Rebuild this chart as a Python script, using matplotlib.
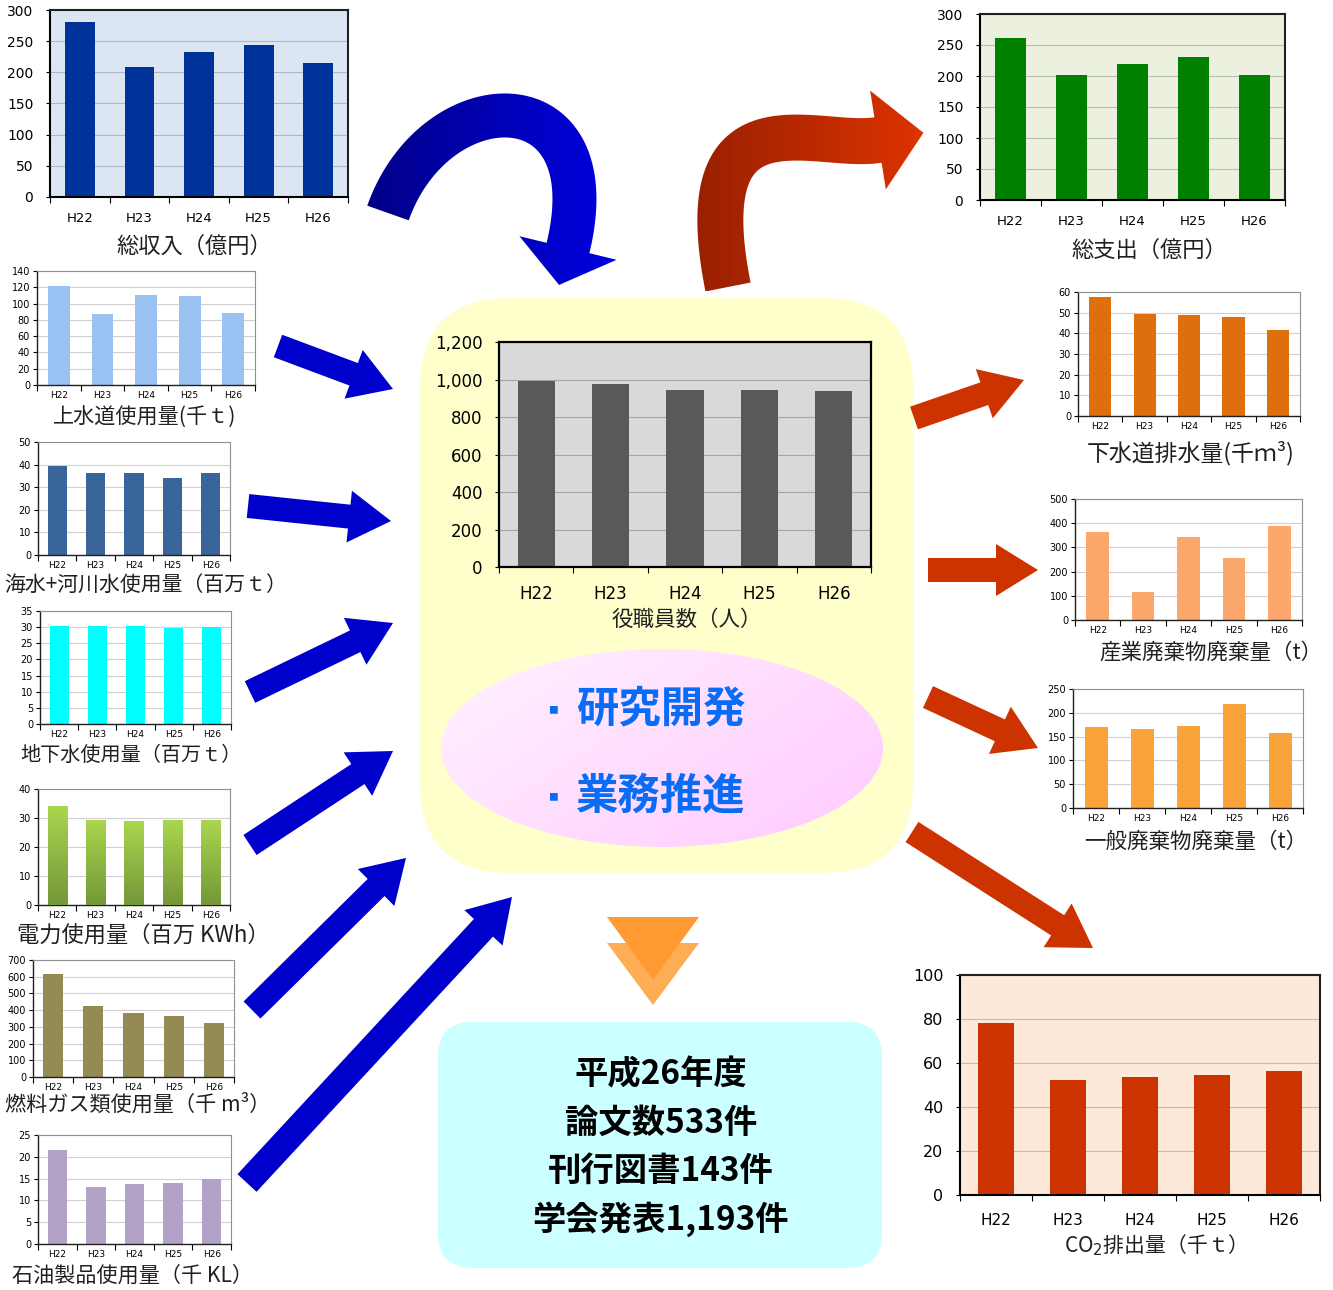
import numpy as np
import matplotlib
matplotlib.use('Agg')
import matplotlib.pyplot as plt
from matplotlib.patches import FancyBboxPatch, Ellipse, Polygon, FancyArrow

plt.rcParams['font.family'] = ['Noto Sans CJK JP', 'DejaVu Sans']

W, H = 1333, 1290

# ---------------- data ----------------
years = ['H22', 'H23', 'H24', 'H25', 'H26']

revenue = [280, 208, 233, 244, 215]            # 総収入（億円）
expenditure = [262, 201, 219, 230, 201]        # 総支出（億円）
staff = [993, 975, 943, 943, 940]              # 役職員数（人）
tap_water = [121, 87, 110, 109, 89]            # 上水道使用量(千t)
sea_river_water = [39.5, 36.1, 36.1, 34.0, 36.3]
groundwater = [30.3, 30.3, 30.3, 29.7, 30.0]
electricity = [33.8, 29.3, 28.7, 29.3, 29.3]
fuel_gas = [618, 427, 385, 365, 322]
oil = [21.5, 13.1, 13.7, 13.9, 14.8]
sewage = [57.5, 49.5, 48.8, 48.0, 41.7]
industrial_waste = [365, 117, 341, 256, 390]
general_waste = [170, 165, 173, 219, 157]
co2 = [78, 52.5, 53.5, 54.5, 56.5]

staff_ticks = [0, 200, 400, 600, 800, 1000, 1200]
staff_ticklabels = ['0', '200', '400', '600', '800', '1,000', '1,200']

activities = ['研究開発', '業務推進']
summary_lines = ['平成26年度', '論文数533件', '刊行図書143件', '学会発表1,193件']

# ---------------- figure ----------------
fig = plt.figure(figsize=(13.33, 12.90), dpi=100)
bg = fig.add_axes([0, 0, 1, 1])
bg.set_xlim(0, W)
bg.set_ylim(H, 0)
bg.axis('off')


def px_axes(x0, y0, x1, y1):
    return fig.add_axes([x0 / W, 1 - y1 / H, (x1 - x0) / W, (y1 - y0) / H])


# yellow rounded box
bg.add_patch(FancyBboxPatch((420, 298), 493, 575,
                            boxstyle="round,pad=0,rounding_size=90",
                            fc='#ffffcc', ec='none', zorder=1))

# pink ellipse with gradient
ell = Ellipse((662, 748), 442, 198, fc='none', ec='none', zorder=2)
bg.add_patch(ell)
u = np.linspace(0, 1, 200)
U, V = np.meshgrid(u, u)
t = np.clip((U * 0.6 + V * 0.4), 0, 1)
c0 = np.array([1.0, 0.95, 1.0])
c1 = np.array([1.0, 0.79, 1.0])
img = c0[None, None, :] * (1 - t[..., None]) + c1[None, None, :] * t[..., None]
im = bg.imshow(img, extent=(441, 883, 847, 649), aspect='auto', zorder=2,
               interpolation='bilinear')
im.set_clip_path(ell)

for i, s in enumerate(activities):
    y = 710 + i * 87
    bg.text(553, y, '■', fontsize=7, color='#0a6cf5', ha='center', va='center', zorder=3)
    bg.text(576, y, s, fontsize=30.5, fontweight='bold', color='#0a6cf5',
            ha='left', va='center', zorder=3)

# cyan summary box
bg.add_patch(FancyBboxPatch((438, 1022), 444, 246,
                            boxstyle="round,pad=0,rounding_size=35",
                            fc='#ccffff', ec='none', zorder=1))
for i, s in enumerate(summary_lines):
    bg.text(661, 1075 + i * 48, s, fontsize=24, fontweight='bold', color='black',
            ha='center', va='center', zorder=3)

# orange down triangles
bg.add_patch(Polygon([(607, 943), (699, 943), (653, 1005)], closed=True,
                     fc='#ffad55', ec='none', zorder=2))
bg.add_patch(Polygon([(607, 917), (699, 917), (653, 980)], closed=True,
                     fc='#ff9a33', ec='none', zorder=3))


# straight block arrows
def block_arrow(x0, y0, x1, y1, color, width=24, hw=52, hl=42):
    bg.add_patch(FancyArrow(x0, y0, x1 - x0, y1 - y0, width=width,
                            head_width=hw, head_length=hl,
                            length_includes_head=True, fc=color, ec='none', zorder=2))


blue = '#0000cc'
red = '#cc3300'
block_arrow(278, 346, 393, 389, blue)
block_arrow(248, 506, 391, 521, blue)
block_arrow(250, 692, 393, 623, blue)
block_arrow(250, 845, 393, 751, blue)
block_arrow(252, 1010, 406, 858, blue)
block_arrow(247, 1183, 512, 897, blue, width=26)
block_arrow(914, 418, 1024, 380, red)
block_arrow(928, 570, 1038, 570, red)
block_arrow(928, 697, 1038, 748, red)
block_arrow(912, 832, 1093, 948, red)


# curved arrows
def curved_arrow(P, tail_w, head_w, head_l, c_start, c_end):
    P = np.array(P, float)
    tt = np.linspace(0, 1, 120)[:, None]
    pts = ((1 - tt) ** 3 * P[0] + 3 * (1 - tt) ** 2 * tt * P[1]
           + 3 * (1 - tt) * tt ** 2 * P[2] + tt ** 3 * P[3])
    der = (3 * (1 - tt) ** 2 * (P[1] - P[0]) + 6 * (1 - tt) * tt * (P[2] - P[1])
           + 3 * tt ** 2 * (P[3] - P[2]))
    der = der / np.linalg.norm(der, axis=1, keepdims=True)
    nrm = np.column_stack([-der[:, 1], der[:, 0]])
    left = pts + nrm * tail_w / 2
    right = pts - nrm * tail_w / 2
    d = der[-1]
    n = nrm[-1]
    head = [P[3] + n * head_w / 2, P[3] + d * head_l, P[3] - n * head_w / 2]
    poly = np.vstack([left, head, right[::-1]])
    patch = Polygon(poly, closed=True, fc='none', ec='none', zorder=2)
    bg.add_patch(patch)
    xmin, ymin = poly.min(axis=0)
    xmax, ymax = poly.max(axis=0)
    g = np.linspace(0, 1, 256)[None, :, None]
    cs = np.array(matplotlib.colors.to_rgb(c_start))
    ce = np.array(matplotlib.colors.to_rgb(c_end))
    gimg = cs * (1 - g) + ce * g
    gimg = np.repeat(gimg, 4, axis=0)
    gi = bg.imshow(gimg, extent=(xmin, xmax, ymax, ymin), aspect='auto', zorder=2,
                   interpolation='bilinear')
    gi.set_clip_path(patch)


curved_arrow([(388, 213), (435, 80), (610, 75), (568, 248)], 44, 100, 38,
             '#000088', '#0000e0')
curved_arrow([(728, 287), (688, 85), (815, 150), (878, 140)], 46, 100, 46,
             '#992000', '#dd3300')


# ---------------- bar charts ----------------
def bar_chart(box, values, color, yticks, ylim, yticklabels=None, face='white',
              yfs=7, xfs=6.5, xpad=4, ypad=2, spine='#909090', spine_lw=0.8,
              grid='#d0d0d0', gradient=None):
    ax = px_axes(*box)
    ax.set_facecolor(face)
    x = np.arange(len(values))
    bars = ax.bar(x, values, width=0.5, color=color, zorder=2)
    if gradient is not None:
        top = np.array(matplotlib.colors.to_rgb(gradient[0]))
        bot = np.array(matplotlib.colors.to_rgb(gradient[1]))
        g = np.linspace(0, 1, 100)[:, None, None]
        gimg = np.repeat(top * (1 - g) + bot * g, 2, axis=1)
        for b in bars:
            ax.imshow(gimg, extent=(b.get_x(), b.get_x() + b.get_width(), 0, b.get_height()),
                      aspect='auto', zorder=3, interpolation='bilinear')
    ax.set_xlim(-0.5, len(values) - 0.5)
    ax.set_ylim(*ylim)
    ax.set_yticks(yticks)
    if yticklabels is not None:
        ax.set_yticklabels(yticklabels)
    ax.tick_params(axis='y', labelsize=yfs, length=3, width=0.8, pad=ypad,
                   colors='black')
    ax.set_xticks(np.arange(-0.5, len(values), 1))
    ax.set_xticklabels([])
    ax.set_xticks(x, minor=True)
    ax.set_xticklabels(years, minor=True, fontfamily='DejaVu Sans')
    ax.tick_params(axis='x', which='major', length=4, width=0.8, direction='out')
    ax.tick_params(axis='x', which='minor', length=0, labelsize=xfs, pad=xpad)
    for lab in ax.get_yticklabels():
        lab.set_fontfamily('DejaVu Sans')
    ax.yaxis.grid(True, color=grid, lw=0.8, zorder=1)
    ax.set_axisbelow(True)
    for s in ['top', 'right']:
        ax.spines[s].set_color(spine)
        ax.spines[s].set_linewidth(spine_lw)
    for s in ['left', 'bottom']:
        ax.spines[s].set_color('#202020' if spine_lw < 1.2 else 'black')
        ax.spines[s].set_linewidth(max(spine_lw, 1.0))
    return ax


def title(x, y, s, fs=15):
    bg.text(x, y, s, fontsize=fs, ha='center', va='center', color='#202020', zorder=3)


# top large charts
bar_chart((50, 10, 348, 197), revenue, '#003399', range(0, 301, 50), (0, 300),
          face='#dce6f2', yfs=10, xfs=9.5, xpad=11, ypad=9, spine='#202020',
          spine_lw=1.5, grid='#b0b8c8')
title(194, 246, '総収入（億円）', fs=16)
bar_chart((980, 14, 1285, 200), expenditure, '#008000', range(0, 301, 50), (0, 300),
          face='#ebf1de', yfs=10, xfs=9.5, xpad=11, ypad=9, spine='#202020',
          spine_lw=1.5, grid='#b8c0b0')
title(1149, 250, '総支出（億円）', fs=16)

# center chart
bar_chart((499, 342, 871, 567), staff, '#595959', staff_ticks, (0, 1200),
          yticklabels=staff_ticklabels, face='#d9d9d9', yfs=12, xfs=12, xpad=13,
          ypad=9, spine='black', spine_lw=1.6, grid='#a6a6a6')
title(687, 620, '役職員数（人）', fs=15.5)

# CO2 chart
bar_chart((960, 975, 1320, 1195), co2, '#cc3300', range(0, 101, 20), (0, 100),
          face='#fde9d9', yfs=11.5, xfs=11, xpad=13, ypad=9, spine='#202020',
          spine_lw=1.5, grid='#c8b8b0')
title(1150, 1245, 'CO$_2$排出量（千ｔ）', fs=15)

# left small charts
bar_chart((37, 271, 255, 385), tap_water, '#99c2f2', range(0, 141, 20), (0, 140))
title(145, 418, '上水道使用量(千ｔ)', fs=15.2)
bar_chart((38, 442, 230, 555), sea_river_water, '#3a659a', range(0, 51, 10), (0, 50))
title(146, 586, '海水+河川水使用量（百万ｔ）', fs=15)
bar_chart((40, 611, 231, 724), groundwater, '#00ffff', range(0, 36, 5), (0, 35))
title(131, 755, '地下水使用量（百万ｔ）', fs=14.5)
bar_chart((38, 789, 230, 905), electricity, '#92b84a', range(0, 41, 10), (0, 40),
          gradient=('#aad64e', '#74973a'))
title(143, 935, '電力使用量（百万 KWh）', fs=16)
bar_chart((33, 960, 234, 1077), fuel_gas, '#948a54', range(0, 701, 100), (0, 700))
title(138, 1105, '燃料ガス類使用量（千 m³）', fs=15.2)
bar_chart((38, 1135, 231, 1244), oil, '#b3a2c7', range(0, 26, 5), (0, 25))
title(133, 1276, '石油製品使用量（千 KL）', fs=15.2)

# right small charts
bar_chart((1078, 292, 1300, 416), sewage, '#dd700c', range(0, 61, 10), (0, 60))
title(1191, 453, '下水道排水量(千ｍ³)', fs=16.5)
bar_chart((1075, 499, 1302, 620), industrial_waste, '#fca86c', range(0, 501, 100), (0, 500))
title(1211, 653, '産業廃棄物廃棄量（t）', fs=15.5)
bar_chart((1073, 689, 1303, 808), general_waste, '#f9a33a', range(0, 251, 50), (0, 250))
title(1196, 842, '一般廃棄物廃棄量（t）', fs=15.5)

bg.set_xlim(0, W)
bg.set_ylim(H, 0)

fig.savefig('out.png', dpi=100, facecolor='white')
